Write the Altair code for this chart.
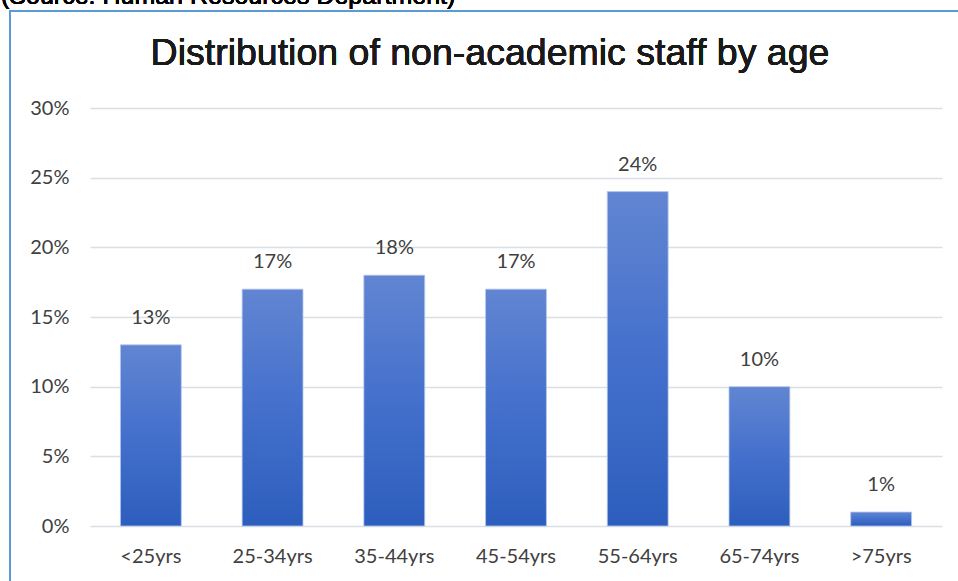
import altair as alt
import pandas as pd

# Age bands and share of non-academic staff in each
age_groups = ["<25yrs", "25-34yrs", "35-44yrs", "45-54yrs", "55-64yrs", "65-74yrs", ">75yrs"]
shares = [0.13, 0.17, 0.18, 0.17, 0.24, 0.10, 0.01]
share_labels = ["13%", "17%", "18%", "17%", "24%", "10%", "1%"]

df = pd.DataFrame({"age": age_groups, "share": shares, "label": share_labels})

W, H = 852, 418
PAD_L, PAD_T = 90, 108
TEXT_GREY = "#404040"

x_enc = alt.X(
    "age:N",
    sort=age_groups,
    title=None,
    scale=alt.Scale(paddingInner=0.5, paddingOuter=0.25),
    axis=alt.Axis(
        labelAngle=0,
        labelFont="Lato",
        labelFontSize=20,
        labelColor=TEXT_GREY,
        labelPadding=20,
        ticks=False,
        domain=False,
        grid=False,
    ),
)
y_enc = alt.Y(
    "share:Q",
    title=None,
    scale=alt.Scale(domain=[0, 0.30], nice=False),
    axis=alt.Axis(
        values=[0, 0.05, 0.10, 0.15, 0.20, 0.25, 0.30],
        format=".0%",
        labelFont="Lato",
        labelFontSize=20,
        labelColor=TEXT_GREY,
        labelPadding=21,
        ticks=False,
        domain=False,
        gridColor="#dadfe6",
        gridWidth=1.5,
    ),
)

bar_fill = alt.Gradient(
    gradient="linear",
    x1=0, y1=0, x2=0, y2=1,
    stops=[
        alt.GradientStop(color="#6185d2", offset=0),
        alt.GradientStop(color="#4470cc", offset=0.5),
        alt.GradientStop(color="#2d5ebd", offset=1),
    ],
)

bars = alt.Chart(df).mark_bar(
    color=bar_fill, stroke="#b4c6ec", strokeWidth=0.8
).encode(x=x_enc, y=y_enc)

labels = alt.Chart(df).mark_text(
    dy=-17, font="Lato", fontSize=20, color=TEXT_GREY, baseline="bottom"
).encode(x=alt.X("age:N", sort=age_groups), y="share:Q", text="label:N")

# Outer chart frame (top and left edges visible)
frame_top = alt.Chart(df).mark_rule(color="#5b9bd5", strokeWidth=2).encode(
    x=alt.value(9 - PAD_L), x2=alt.value(958 - PAD_L + 5), y=alt.value(11 - PAD_T)
)
frame_left = alt.Chart(df).mark_rule(color="#5b9bd5", strokeWidth=2).encode(
    x=alt.value(10 - PAD_L), y=alt.value(10 - PAD_T), y2=alt.value(581 - PAD_T + 5)
)

# Source note sitting above the frame
source = alt.Chart(df).mark_text(
    text="(Source: Human Resources Department)",
    font="Arial",
    fontSize=25,
    fontWeight=400,
    color="#000000",
    align="left",
    baseline="alphabetic",
).encode(x=alt.value(1 - PAD_L), y=alt.value(4 - PAD_T))

title = alt.Chart(df).mark_text(
    text="Distribution of non-academic staff by age",
    font="Arial",
    fontSize=37.5,
    fontWeight=400,
    color="#1a1a1a",
    align="center",
    baseline="alphabetic",
).encode(x=alt.value(490 - PAD_L), y=alt.value(65 - PAD_T))

chart = (
    alt.layer(bars, labels, frame_top, frame_left, source, title)
    .properties(
        width=W,
        height=H,
        background="white",
        autosize=alt.AutoSizeParams(type="none"),
        padding={"left": PAD_L, "top": PAD_T, "right": 958 - PAD_L - W, "bottom": 581 - PAD_T - H},
    )
    .configure_view(stroke="transparent", strokeWidth=0)
)

chart.save("out.html", embed_options={"renderer": "svg", "actions": False})
